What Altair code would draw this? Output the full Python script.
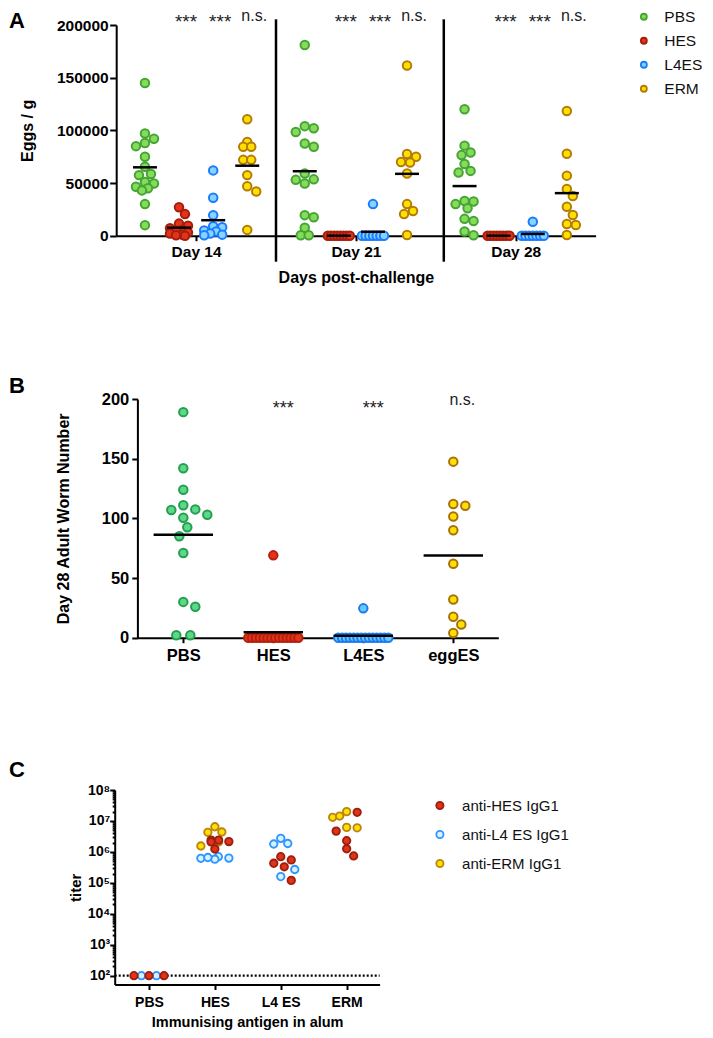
import math
import altair as alt
import pandas as pd

FONT = "Liberation Sans"
W, H = 697, 1022

# ---------------- Panel A : Eggs / g ----------------
A_DAYS = ["Day 14", "Day 21", "Day 28"]
A_GROUPS = ["PBS", "HES", "L4ES", "ERM"]
A_PBS = [
    [145000, 97000, 92000, 88000, 85000, 75000, 65500, 58500, 57500, 51000, 49500, 46500, 45000, 43000, 30000, 10000],
    [181000, 104000, 102000, 98500, 87500, 84500, 59000, 53500, 53000, 49500, 19500, 17500, 7500, 500, 500],
    [120000, 85500, 79000, 76500, 68000, 61500, 60000, 33000, 32500, 30000, 26000, 16000, 14000, 4000, 500],
]
A_HES = [
    [27000, 20500, 11500, 9500, 7000, 5500, 4000, 3000, 2000, 1000, 500, 0],
    [0, 0, 0, 0, 0, 0, 0, 0],
    [0, 0, 0, 0, 0, 0, 0, 0],
]
A_L4ES = [
    [62000, 36000, 19500, 9000, 8000, 5000, 4000, 2000, 1000, 500],
    [30000, 0, 0, 0, 0, 0, 0, 0],
    [13300, 0, 0, 0, 0, 0, 0, 0],
]
A_ERM = [
    [110500, 89000, 84500, 84500, 72000, 72000, 57500, 47000, 42000, 5500],
    [161500, 77500, 75000, 70000, 69500, 59000, 30000, 23500, 20500, 700],
    [118300, 77800, 57000, 44300, 37700, 27500, 19600, 11100, 10100, 700],
]
A_SIG = ["***", "***", "n.s."]          # HES, L4ES, ERM vs PBS
A_POS = [-0.32, -0.107, 0.107, 0.32]     # series slot inside each day
A_SEPARATORS = [0.5, 1.55]
A_FILL = ["#86DC5A", "#E5331B", "#86D4FF", "#FFE100"]
A_STROKE = ["#45A534", "#A51E0C", "#1B7BFF", "#B47A0A"]

# ---------------- Panel B : adult worms ----------------
B_GROUPS = ["PBS", "HES", "L4ES", "eggES"]
B_PBS = [189, 142, 124, 111, 107.5, 107, 103, 100.5, 92.5, 85, 71, 30, 26, 2, 2]
B_HES = [69, 0, 0, 0, 0, 0, 0, 0, 0, 0, 0, 0, 0, 0, 0]
B_L4ES = [24.6, 0, 0, 0, 0, 0, 0, 0, 0, 0, 0, 0, 0, 0, 0]
B_EGGES = [147.5, 112, 110.5, 101.5, 90, 62, 32, 17.5, 11, 4]
B_SIG = ["***", "***", "n.s."]
B_FILL = ["#5ED78A", "#E5331B", "#66CCFF", "#FFE100"]
B_STROKE = ["#23A04D", "#B5200D", "#1E7BF0", "#A8700C"]

# ---------------- Panel C : IgG1 titers ----------------
C_GROUPS = ["PBS", "HES", "L4 ES", "ERM"]
C_ABS = ["anti-HES IgG1", "anti-L4 ES IgG1", "anti-ERM IgG1"]
C_ANTI_HES = [[100, 100, 100], [2.4e6, 2.15e6, 2.1e6, 2.4e6, 1.24e6],
              [7.0e5, 4.3e5, 3.3e5, 5.5e5, 1.2e5], [1.9e7, 4.7e6, 2.3e6, 1.26e6, 7.4e5]]
C_ANTI_L4 = [[100, 100], [7.0e5, 6.2e5, 5.8e5, 6.3e5, 6.6e5],
             [2.74e6, 1.8e6, 1.87e6, 2.7e5, 1.6e5], []]
C_ANTI_ERM = [[], [6.5e6, 4.4e6, 4.3e6, 2.1e6, 1.55e6], [],
              [1.31e7, 2.0e7, 1.44e7, 6.2e6, 6.0e6]]
C_LOD = 100
C_FILL = ["#E3321A", "#D6F1FF", "#FFE100"]
C_STROKE = ["#9A1F0C", "#2E96FF", "#BC8410"]
C_DRAW = {"anti-ERM IgG1": 0, "anti-L4 ES IgG1": 1, "anti-HES IgG1": 2}

# panel letters (positioned in each panel's data units)
LETTERS = [("A", -1.171, 197150), ("B", -1.937, 205.0), ("C", -2.124, 2.63e8)]

# ---------------- geometry (scale ranges, px) ----------------
XA_DOM, XA_RNG = [-0.5, 2.5], [108.2, 587.6]
YA_DOM, YA_RNG = [0, 200000], [227.7, 17.0]
XB_DOM, XB_RNG = [-0.51, 3.5], [129.4, 490.3]
YB_DOM, YB_RNG = [0, 200], [629.7, 391.0]
XC_DOM, XC_RNG = [-0.52, 3.5], [106.7, 371.6]
YC_DOM, YC_RNG = [52, 1e8], [976.5, 782.0]

pxA_x = (XA_RNG[1] - XA_RNG[0]) / (XA_DOM[1] - XA_DOM[0])
pxA_y = (YA_RNG[0] - YA_RNG[1]) / (YA_DOM[1] - YA_DOM[0])
pxB_x = (XB_RNG[1] - XB_RNG[0]) / (XB_DOM[1] - XB_DOM[0])
pxB_y = (YB_RNG[0] - YB_RNG[1]) / (YB_DOM[1] - YB_DOM[0])
pxC_x = (XC_RNG[1] - XC_RNG[0]) / (XC_DOM[1] - XC_DOM[0])
pxC_dec = (YC_RNG[0] - YC_RNG[1]) / (math.log10(YC_DOM[1]) - math.log10(YC_DOM[0]))


def swarm(vals_px, diam, step, maxoff, row_step):
    """simple beeswarm: returns horizontal pixel offsets"""
    n = len(vals_px)
    offs = [0.0] * n
    placed = []
    order = sorted(range(n), key=lambda i: -vals_px[i])
    cands = [0.0]
    k = 1
    while k * step <= maxoff + 1e-9:
        cands += [k * step, -k * step]
        k += 1
    i = 0
    while i < n:
        j = i
        while j + 1 < n and vals_px[order[j + 1]] == vals_px[order[i]]:
            j += 1
        run = order[i:j + 1]
        if len(run) > 1:
            sp = min(row_step, 2 * maxoff / (len(run) - 1))
            for r, t in enumerate(run):
                o = (r - (len(run) - 1) / 2) * sp
                offs[t] = o
                placed.append((o, vals_px[t]))
        else:
            t = run[0]
            y = vals_px[t]
            best = None
            for c in cands:
                if all((c - px) ** 2 + (y - py) ** 2 >= diam ** 2 for px, py in placed):
                    best = c
                    break
            if best is None:
                best = max(cands, key=lambda c: min((c - px) ** 2 + (y - py) ** 2 for px, py in placed))
            offs[t] = best
            placed.append((best, y))
        i = j + 1
    return offs


def mk_axis(values, orient, offset, title=None, label_size=15.5, title_size=16,
            tick_size=6, label_padding=2, title_padding=10, label_expr=None, fmt=None, **kw):
    args = dict(values=values, orient=orient, offset=offset, title=title, grid=False,
                domainColor="black", domainWidth=2, tickColor="black", tickWidth=2,
                tickSize=tick_size, labelFont=FONT, labelFontSize=label_size,
                labelFontWeight="bold", labelColor="black", labelPadding=label_padding,
                labelFlush=False, labelOverlap=False, labelBound=False, labelAngle=0,
                titleFont=FONT, titleFontSize=title_size, titleFontWeight="bold",
                titleColor="black", titlePadding=title_padding)
    if label_expr:
        args["labelExpr"] = label_expr
    if fmt:
        args["format"] = fmt
    args.update(kw)
    return alt.Axis(**args)


def arr_expr(names):
    return "[" + ",".join("'" + n + "'" for n in names) + "][round(datum.value)]"


# ================= Panel A =================
rowsA, meansA = [], []
A_SERIES = [A_PBS, A_HES, A_L4ES, A_ERM]
for d in range(len(A_DAYS)):
    for g in range(len(A_GROUPS)):
        vals = A_SERIES[g][d]
        offs = swarm([v * pxA_y for v in vals], 9.0, 3.0, 11.0, 8.0)
        for v, o in zip(vals, offs):
            rowsA.append({"x": d + A_POS[g] + o / pxA_x, "y": v, "group": A_GROUPS[g]})
        m = sum(vals) / len(vals)
        meansA.append({"x": d + A_POS[g] - 0.075, "x2": d + A_POS[g] + 0.075, "y": m})
dfA = pd.DataFrame(rowsA)
dfMA = pd.DataFrame(meansA)
starsA = pd.DataFrame([{"x": d + A_POS[g + 1], "y": 197300, "text": A_SIG[g]}
                       for d in range(3) for g in range(3) if A_SIG[g] == "***"])
nsA = pd.DataFrame([{"x": d + A_POS[g + 1], "y": 204100, "text": A_SIG[g]}
                    for d in range(3) for g in range(3) if A_SIG[g] != "***"])
sepA = pd.DataFrame({"x": A_SEPARATORS, "y": [205400] * len(A_SEPARATORS),
                     "y2": [-24700] * len(A_SEPARATORS)})
letA = pd.DataFrame([{"x": LETTERS[0][1], "y": LETTERS[0][2], "text": LETTERS[0][0]}])

sxA = alt.Scale(domain=XA_DOM, range=XA_RNG, nice=False, zero=False)
syA = alt.Scale(domain=YA_DOM, range=YA_RNG, nice=False, zero=False)
axA_x = mk_axis([0, 1, 2], "bottom", -(H - YA_RNG[0]), title="Days post-challenge",
                tick_size=5, label_padding=4, title_padding=9, label_expr=arr_expr(A_DAYS))
axA_y = mk_axis([0, 50000, 100000, 150000, 200000], "left", -XA_RNG[0], title="Eggs / g",
                tick_size=6.5, label_padding=1.5, title_padding=21, fmt="d")
XA = lambda f="x": alt.X(f"{f}:Q", scale=sxA, axis=axA_x)
YA = lambda f="y": alt.Y(f"{f}:Q", scale=syA, axis=axA_y)

legA = alt.Legend(title=None, orient="none", legendX=628.1, legendY=1, padding=0,
                  labelFont=FONT, labelFontSize=15.5, labelColor="#111",
                  symbolType="circle", symbolSize=36, symbolStrokeWidth=1.8,
                  rowPadding=7, labelOffset=12.7)

layerA = alt.layer(
    alt.Chart(sepA).mark_rule(color="black", strokeWidth=2.5).encode(x=XA(), y=YA(), y2="y2:Q"),
    alt.Chart(dfA).mark_circle(size=72, strokeWidth=2, opacity=1).encode(
        x=XA(), y=YA(),
        fill=alt.Fill("group:N", scale=alt.Scale(domain=A_GROUPS, range=A_FILL), legend=legA),
        stroke=alt.Stroke("group:N", scale=alt.Scale(domain=A_GROUPS, range=A_STROKE), legend=legA)),
    alt.Chart(dfMA).mark_rule(color="black", strokeWidth=2.5).encode(x=XA(), x2="x2:Q", y=YA()),
    alt.Chart(starsA).mark_text(font=FONT, fontSize=19, color="#222", dx=7, baseline="alphabetic").encode(
        x=XA(), y=YA(), text="text:N"),
    alt.Chart(nsA).mark_text(font=FONT, fontSize=16, color="#222", dx=7, baseline="alphabetic").encode(
        x=XA(), y=YA(), text="text:N"),
    alt.Chart(letA).mark_text(font=FONT, fontSize=22, fontWeight="bold", color="black",
                              align="left", baseline="alphabetic").encode(x=XA(), y=YA(), text="text:N"),
)

# ================= Panel B =================
rowsB, meansB = [], []
B_SERIES = [B_PBS, B_HES, B_L4ES, B_EGGES]
for g in range(len(B_GROUPS)):
    vals = B_SERIES[g]
    offs = swarm([v * pxB_y for v in vals], 10.0, 4.0, 25.0, 14.0)
    for v, o in zip(vals, offs):
        rowsB.append({"x": g + o / pxB_x, "y": v, "group": B_GROUPS[g]})
    m = sum(vals) / len(vals)
    meansB.append({"x": g - 0.33, "x2": g + 0.33, "y": m})
dfB = pd.DataFrame(rowsB)
dfMB = pd.DataFrame(meansB)
starsB = pd.DataFrame([{"x": g + 1, "y": 187.8, "text": B_SIG[g]} for g in range(3) if B_SIG[g] == "***"])
nsB = pd.DataFrame([{"x": g + 1, "y": 195.0, "text": B_SIG[g]} for g in range(3) if B_SIG[g] != "***"])
letB = pd.DataFrame([{"x": LETTERS[1][1], "y": LETTERS[1][2], "text": LETTERS[1][0]}])

sxB = alt.Scale(domain=XB_DOM, range=XB_RNG, nice=False, zero=False)
syB = alt.Scale(domain=YB_DOM, range=YB_RNG, nice=False, zero=False)
axB_x = mk_axis([0, 1, 2, 3], "bottom", -(H - YB_RNG[0]), title=None, label_size=16.5,
                tick_size=5, label_padding=5, label_expr=arr_expr(B_GROUPS))
axB_y = mk_axis([0, 50, 100, 150, 200], "left", -XB_RNG[0], title="Day 28 Adult Worm Number",
                label_size=16.5, tick_size=5.6, label_padding=3, title_padding=30, fmt="d")
XB = lambda f="x": alt.X(f"{f}:Q", scale=sxB, axis=axB_x)
YB = lambda f="y": alt.Y(f"{f}:Q", scale=syB, axis=axB_y)

layerB = alt.layer(
    alt.Chart(dfB).mark_circle(size=72, strokeWidth=2, opacity=1).encode(
        x=XB(), y=YB(),
        fill=alt.Fill("group:N", scale=alt.Scale(domain=B_GROUPS, range=B_FILL), legend=None),
        stroke=alt.Stroke("group:N", scale=alt.Scale(domain=B_GROUPS, range=B_STROKE), legend=None)),
    alt.Chart(dfMB).mark_rule(color="black", strokeWidth=2.5).encode(x=XB(), x2="x2:Q", y=YB()),
    alt.Chart(starsB).mark_text(font=FONT, fontSize=18, color="#222", dx=10, baseline="alphabetic").encode(
        x=XB(), y=YB(), text="text:N"),
    alt.Chart(nsB).mark_text(font=FONT, fontSize=16, color="#222", dx=9, baseline="alphabetic").encode(
        x=XB(), y=YB(), text="text:N"),
    alt.Chart(letB).mark_text(font=FONT, fontSize=22, fontWeight="bold", color="black",
                              align="left", baseline="alphabetic").encode(x=XB(), y=YB(), text="text:N"),
)

# ================= Panel C =================
rowsC = []
C_SETS = [C_ANTI_HES, C_ANTI_L4, C_ANTI_ERM]
for g in range(len(C_GROUPS)):
    lists = [C_SETS[a][g] for a in range(3)]
    combined = []
    maxlen = max(len(l) for l in lists)
    for k in range(maxlen):
        for a in range(3):
            if k < len(lists[a]):
                combined.append((C_ABS[a], lists[a][k]))
    offs = swarm([math.log10(v) * pxC_dec for _, v in combined], 8.0, 3.5, 17.0, 7.5)
    for (ab, v), o in zip(combined, offs):
        rowsC.append({"x": g + o / pxC_x, "y": v, "ab": ab, "ord": C_DRAW[ab]})
dfC = pd.DataFrame(rowsC).sort_values("ord", kind="stable")
lodC = pd.DataFrame([{"x": XC_DOM[0], "x2": XC_DOM[1], "y": C_LOD}])
letC = pd.DataFrame([{"x": LETTERS[2][1], "y": LETTERS[2][2], "text": LETTERS[2][0]}])

LOGV = "(log(datum.value)/LN10)"
TEST = f"abs({LOGV} - round({LOGV})) < 0.001"
SUP = "['⁰','¹','²','³','⁴','⁵','⁶','⁷','⁸','⁹']"
c_ticks = [k * 10 ** e for e in range(2, 8) for k in range(1, 10)] + [10 ** 8]

sxC = alt.Scale(domain=XC_DOM, range=XC_RNG, nice=False, zero=False)
syC = alt.Scale(type="log", domain=YC_DOM, range=YC_RNG, nice=False)
axC_x = mk_axis([0, 1, 2, 3], "bottom", -(H - YC_RNG[0]), title="Immunising antigen in alum",
                label_size=14, title_size=14.5, tick_size=5, label_padding=6, title_padding=6,
                label_expr=arr_expr(C_GROUPS))
axC_y = mk_axis(c_ticks, "left", -XC_RNG[0], title="titer", label_size=14, title_size=15,
                tick_size={"condition": {"test": TEST, "value": 5}, "value": 2.5},
                label_padding=0, title_padding=4,
                label_expr=f"{TEST} ? '10' + {SUP}[round({LOGV})] : ''")
XC = lambda f="x": alt.X(f"{f}:Q", scale=sxC, axis=axC_x)
YC = lambda f="y": alt.Y(f"{f}:Q", scale=syC, axis=axC_y)

legC = alt.Legend(title=None, orient="none", legendX=424.4, legendY=790, padding=0,
                  labelFont=FONT, labelFontSize=15, labelColor="#111",
                  symbolType="circle", symbolSize=52, symbolStrokeWidth=1.8,
                  rowPadding=13, labelOffset=14.7)

layerC = alt.layer(
    alt.Chart(lodC).mark_rule(color="black", strokeWidth=2.2, strokeDash=[2, 2]).encode(
        x=XC(), x2="x2:Q", y=YC()),
    alt.Chart(dfC).mark_circle(size=56, strokeWidth=1.8, opacity=1).encode(
        x=XC(), y=YC(),
        fill=alt.Fill("ab:N", scale=alt.Scale(domain=C_ABS, range=C_FILL), legend=legC),
        stroke=alt.Stroke("ab:N", scale=alt.Scale(domain=C_ABS, range=C_STROKE), legend=legC),
        order=alt.Order("ord:Q")),
    alt.Chart(letC).mark_text(font=FONT, fontSize=22, fontWeight="bold", color="black",
                              align="left", baseline="alphabetic").encode(x=XC(), y=YC(), text="text:N"),
)

chart = alt.layer(layerA, layerB, layerC).resolve_scale(
    x="independent", y="independent", fill="independent", stroke="independent"
).resolve_axis(x="independent", y="independent").resolve_legend(
    fill="independent", stroke="independent"
).properties(
    width=W, height=H, padding=0, autosize=alt.AutoSizeParams(type="none")
).configure(font=FONT).configure_view(stroke=None)

chart.save("out.html", embed_options={"renderer": "svg", "actions": False})
